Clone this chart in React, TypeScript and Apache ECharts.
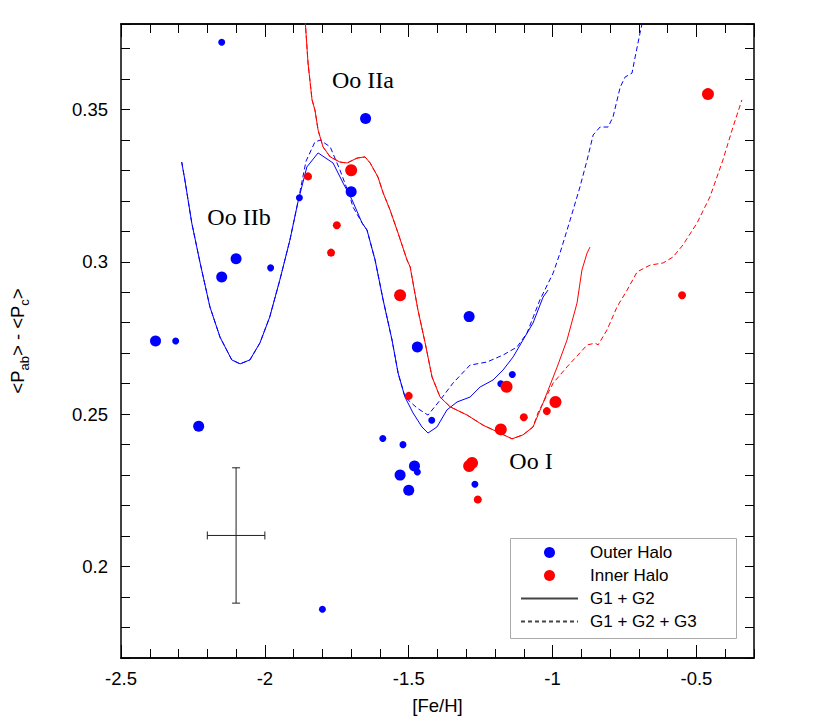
import React, { useEffect, useRef } from 'react';
import * as echarts from 'echarts';

// ---- data ----
const xTickMajor = 0.5;
const xTickMinor = 0.1;
const yTick = 0.01;
const yLabelStep = 0.05;

const outerHaloLarge: [number, number][] = [
  [-1.65, 0.347], [-1.70, 0.323], [-2.10, 0.301], [-2.15, 0.295], [-2.38, 0.274],
  [-2.23, 0.246], [-1.29, 0.282], [-1.47, 0.272], [-1.48, 0.233], [-1.53, 0.230], [-1.50, 0.225],
];
const outerHaloSmall: [number, number][] = [
  [-2.15, 0.372], [-1.88, 0.321], [-1.98, 0.298], [-2.31, 0.274], [-1.42, 0.248],
  [-1.59, 0.242], [-1.52, 0.240], [-1.47, 0.231], [-1.27, 0.227], [-1.80, 0.186],
  [-1.18, 0.260], [-1.14, 0.263],
];
const innerHaloLarge: [number, number][] = [
  [-0.46, 0.355], [-1.70, 0.330], [-1.53, 0.289], [-1.16, 0.259], [-1.18, 0.245],
  [-0.99, 0.254], [-1.29, 0.233], [-1.28, 0.234],
];
const innerHaloSmall: [number, number][] = [
  [-1.85, 0.328], [-1.75, 0.312], [-1.77, 0.303], [-1.50, 0.256], [-0.55, 0.289],
  [-1.10, 0.249], [-1.02, 0.251], [-1.26, 0.222],
];

const blueLeft: [number, number][] = [
  [-2.289, 0.3327], [-2.278, 0.3268], [-2.254, 0.3127], [-2.225, 0.2996], [-2.191, 0.2852],
  [-2.156, 0.2753], [-2.115, 0.2678], [-2.086, 0.2665], [-2.052, 0.2678], [-2.017, 0.2734],
  [-1.983, 0.2819], [-1.948, 0.2940], [-1.913, 0.3071], [-1.885, 0.3196],
];
const blueSolid: [number, number][] = [
  ...blueLeft,
  [-1.854, 0.3311], [-1.815, 0.3357], [-1.763, 0.3324], [-1.728, 0.3258], [-1.697, 0.3203],
  [-1.662, 0.3127], [-1.645, 0.3104], [-1.617, 0.3006], [-1.589, 0.2875], [-1.558, 0.2743],
  [-1.537, 0.2635], [-1.513, 0.2556], [-1.485, 0.2504], [-1.454, 0.2458], [-1.433, 0.2438],
  [-1.402, 0.2458], [-1.367, 0.2514], [-1.332, 0.2540], [-1.287, 0.2556], [-1.252, 0.2589],
  [-1.207, 0.2612], [-1.172, 0.2645], [-1.137, 0.2688], [-1.103, 0.2743], [-1.068, 0.2799],
  [-1.033, 0.2884], [-1.016, 0.2907],
];
const blueDashed: [number, number][] = [
  ...blueLeft,
  [-1.857, 0.3330], [-1.826, 0.3393], [-1.808, 0.3399], [-1.773, 0.3377], [-1.739, 0.3301],
  [-1.704, 0.3213], [-1.694, 0.3180], [-1.662, 0.3127], [-1.645, 0.3104], [-1.617, 0.3006],
  [-1.589, 0.2875], [-1.558, 0.2743], [-1.537, 0.2635], [-1.513, 0.2556], [-1.471, 0.2520],
  [-1.433, 0.2497], [-1.391, 0.2546], [-1.346, 0.2602], [-1.287, 0.2661], [-1.228, 0.2671],
  [-1.172, 0.2694], [-1.124, 0.2720], [-1.089, 0.2766], [-1.044, 0.2875], [-0.998, 0.2963],
  [-0.974, 0.3029], [-0.939, 0.3137], [-0.905, 0.3245], [-0.880, 0.3334], [-0.859, 0.3416],
  [-0.835, 0.3442], [-0.807, 0.3442], [-0.790, 0.3475], [-0.765, 0.3573], [-0.748, 0.3606],
  [-0.724, 0.3619], [-0.713, 0.3672], [-0.696, 0.3751], [-0.686, 0.3793],
];
const redCommon: [number, number][] = [
  [-1.860, 0.3793], [-1.850, 0.3652], [-1.836, 0.3531], [-1.826, 0.3498], [-1.815, 0.3432],
  [-1.798, 0.3377], [-1.773, 0.3344], [-1.739, 0.3327], [-1.714, 0.3324], [-1.680, 0.3340],
  [-1.652, 0.3344], [-1.634, 0.3324], [-1.607, 0.3278], [-1.589, 0.3226], [-1.565, 0.3170],
  [-1.537, 0.3094], [-1.506, 0.3006], [-1.495, 0.2983], [-1.468, 0.2842], [-1.443, 0.2734],
  [-1.419, 0.2622], [-1.391, 0.2556], [-1.356, 0.2524], [-1.297, 0.2497], [-1.242, 0.2464],
  [-1.183, 0.2438], [-1.141, 0.2419], [-1.103, 0.2432], [-1.068, 0.2458],
];
const redSolid: [number, number][] = [
  ...redCommon,
  [-1.033, 0.2537], [-0.984, 0.2655], [-0.950, 0.2743], [-0.915, 0.2865], [-0.898, 0.2973],
  [-0.880, 0.3029], [-0.870, 0.3048],
];
const redDashed: [number, number][] = [
  ...redCommon,
  [-1.051, 0.2504], [-0.998, 0.2602], [-0.950, 0.2655], [-0.905, 0.2701], [-0.880, 0.2727],
  [-0.852, 0.2733], [-0.842, 0.2727], [-0.811, 0.2776], [-0.776, 0.2852], [-0.741, 0.2907],
  [-0.706, 0.2967], [-0.661, 0.2989], [-0.616, 0.2996], [-0.581, 0.3016], [-0.547, 0.3055],
  [-0.498, 0.3127], [-0.453, 0.3213], [-0.408, 0.3334], [-0.373, 0.3442], [-0.342, 0.3531],
];

// typical error bar: [x, y, halfWidthX, halfWidthY]
const errorBar: [number, number, number, number][] = [[-2.10, 0.2102, 0.10, 0.0222]];

const annotations = [
  { text: 'Oo IIa', x: 363, y: 80 },
  { text: 'Oo IIb', x: 239, y: 217 },
  { text: 'Oo I', x: 531, y: 461 },
];

const BLUE = '#0000ff';
const RED = '#ff0000';
const SANS = 'Liberation Sans, Arial, Helvetica, sans-serif';
const SERIF = 'Liberation Serif, Times New Roman, serif';
const FS = 18.5;

const X_MIN = -2.5, X_MAX = -0.3, Y_MIN = 0.17, Y_MAX = 0.378;

function isMultiple(v: number, step: number) {
  const r = v / step;
  return Math.abs(r - Math.round(r)) < 1e-6;
}

export default function App() {
  const ref = useRef<HTMLDivElement>(null);
  useEffect(() => {
    if (!ref.current) return;
    const chart = echarts.init(ref.current, undefined, { renderer: 'svg' });
    const axisLine = { show: true, onZero: false, lineStyle: { color: '#000', width: 1.5 } };
    const xAxisBase = (position: string, interval: number, tickLen: number, labels: boolean, extra: any = {}) => ({
      type: 'value', min: X_MIN, max: X_MAX, interval, position,
      axisLine, splitLine: { show: false },
      axisTick: { show: true, inside: true, length: tickLen, lineStyle: { color: '#000', width: 1 } },
      axisLabel: labels
        ? { show: true, showMaxLabel: false, margin: 11, fontSize: FS, fontFamily: SANS, color: '#000',
            formatter: (v: number) => String(+v.toFixed(2)) }
        : { show: false },
      ...extra,
    });
    const yAxisBase = (position: string, labels: boolean, extra: any = {}) => ({
      type: 'value', min: Y_MIN, max: Y_MAX, interval: yTick, position,
      axisLine, splitLine: { show: false },
      axisTick: { show: true, inside: true, length: 9, lineStyle: { color: '#000', width: 1 } },
      axisLabel: labels
        ? { show: true, margin: 13, fontSize: FS, fontFamily: SANS, color: '#000',
            formatter: (v: number) => (isMultiple(v, yLabelStep) ? String(+v.toFixed(2)) : '') }
        : { show: false },
      ...extra,
    });
    const option: any = {
      animation: false,
      backgroundColor: '#fff',
      grid: { left: 121, right: 76, top: 24, bottom: 64, containLabel: false },
      xAxis: [
        xAxisBase('bottom', xTickMajor, 13, true, {
          name: '[Fe/H]', nameLocation: 'middle', nameGap: 38,
          nameTextStyle: { fontSize: FS, fontFamily: SANS, color: '#000' },
        }),
        xAxisBase('bottom', xTickMinor, 9, false),
        xAxisBase('top', xTickMajor, 13, false),
        xAxisBase('top', xTickMinor, 9, false),
      ],
      yAxis: [
        yAxisBase('left', true, {
          name: '<P{sub|ab}> - <P{sub|c}>', nameLocation: 'middle', nameGap: 90, nameRotate: 90,
          nameTextStyle: {
            fontSize: FS, fontFamily: SANS, color: '#000',
            rich: { sub: { fontSize: 13, fontFamily: SANS, color: '#000', verticalAlign: 'bottom', lineHeight: 27 } },
          },
        }),
        yAxisBase('right', false),
      ],
      legend: {
        orient: 'vertical', left: 520, top: 544, padding: 0, itemGap: 6,
        itemWidth: 57, itemHeight: 11,
        textStyle: { fontSize: 17, fontFamily: SANS, color: '#000', padding: [0, 0, 0, 7] },
        data: [
          { name: 'Outer Halo', itemStyle: { opacity: 1 } },
          { name: 'Inner Halo', itemStyle: { opacity: 1 } },
          { name: 'G1 + G2', itemStyle: { opacity: 0 } },
          { name: 'G1 + G2 + G3', itemStyle: { opacity: 0 } },
        ],
      },
      graphic: [
        { type: 'rect', left: 508, top: 536, shape: { width: 226, height: 100 },
          style: { fill: 'none', stroke: '#aaaaaa', lineWidth: 1 }, z: 0 },
        ...annotations.map((a) => ({
          type: 'text', x: a.x, y: a.y,
          style: { text: a.text, fontSize: 24, fontFamily: SERIF, fill: '#000', align: 'center', verticalAlign: 'middle' },
        })),
      ],
      series: [
        { name: 'G1 + G2', type: 'line', data: [], symbol: 'none', showSymbol: false, color: '#444', lineStyle: { width: 1, color: '#444' } },
        { name: 'G1 + G2 + G3', type: 'line', data: [], symbol: 'none', showSymbol: false, color: '#444', lineStyle: { width: 1, color: '#444', type: [4, 3] } },
        { name: 'outer-solid', type: 'line', data: blueSolid, symbol: 'none', lineStyle: { color: BLUE, width: 1 }, z: 2 },
        { name: 'outer-dashed', type: 'line', data: blueDashed, symbol: 'none', lineStyle: { color: BLUE, width: 1, type: [5, 3] }, z: 2 },
        { name: 'inner-solid', type: 'line', data: redSolid, symbol: 'none', lineStyle: { color: RED, width: 1 }, z: 2 },
        { name: 'inner-dashed', type: 'line', data: redDashed, symbol: 'none', lineStyle: { color: RED, width: 1, type: [5, 3] }, z: 2 },
        {
          name: 'error', type: 'custom', data: errorBar, z: 3,
          renderItem: (_p: any, api: any) => {
            const xc = api.value(0), yc = api.value(1), dx = api.value(2), dy = api.value(3);
            const l = api.coord([xc - dx, yc]);
            const r = api.coord([xc + dx, yc]);
            const t = api.coord([xc, yc + dy]);
            const b = api.coord([xc, yc - dy]);
            const cap = 4;
            const style = { stroke: '#222', lineWidth: 1 };
            const ln = (x1: number, y1: number, x2: number, y2: number) => ({ type: 'line', shape: { x1, y1, x2, y2 }, style });
            return {
              type: 'group',
              children: [
                ln(l[0], l[1], r[0], r[1]),
                ln(l[0], l[1] - cap, l[0], l[1] + cap),
                ln(r[0], r[1] - cap, r[0], r[1] + cap),
                ln(t[0], t[1], b[0], b[1]),
                ln(t[0] - cap, t[1], t[0] + cap, t[1]),
                ln(b[0] - cap, b[1], b[0] + cap, b[1]),
              ],
            };
          },
        },
        { name: 'Outer Halo', type: 'scatter', data: outerHaloLarge, symbolSize: 11, itemStyle: { color: BLUE, opacity: 1 }, z: 4 },
        { name: 'Outer Halo', type: 'scatter', data: outerHaloSmall, symbolSize: 7, itemStyle: { color: BLUE, opacity: 1 }, z: 4 },
        { name: 'Inner Halo', type: 'scatter', data: innerHaloLarge, symbolSize: 12, itemStyle: { color: RED, opacity: 1 }, z: 5 },
        { name: 'Inner Halo', type: 'scatter', data: innerHaloSmall, symbolSize: 8, itemStyle: { color: RED, opacity: 1 }, z: 5 },
      ],
    };
    chart.setOption(option);
    return () => chart.dispose();
  }, []);
  return <div ref={ref} style={{ position: 'fixed', left: 0, top: 0, width: 830, height: 722 }} />;
}
